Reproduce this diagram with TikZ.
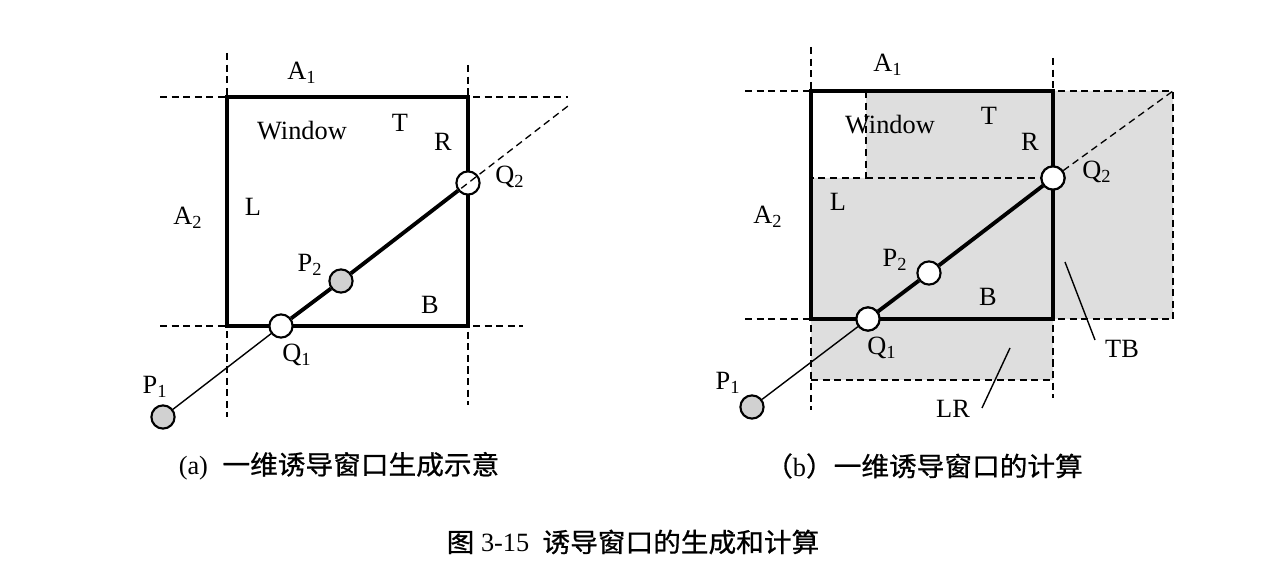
\documentclass[tikz,border=0pt]{standalone}
\usepackage{fontspec}
\setmainfont{Liberation Serif}
\newfontfamily\hei[FakeStretch=1.05,FakeBold=0.8]{Noto Sans CJK SC}
\usetikzlibrary{calc,positioning}
\definecolor{regiongray}{gray}{0.87}
\definecolor{dotgray}{gray}{0.82}
\tikzset{
    win/.style={line width=1.9pt, line join=miter},
    guide/.style={dash pattern=on 4pt off 2.6pt, line width=0.75pt},
    line/.style={line width=0.8pt},
    seg/.style={line width=2.2pt},
    pt/.style={circle, draw=black, line width=1.2pt, fill=white, minimum size=13.2pt, inner sep=0pt},
    gpt/.style={pt, fill=dotgray},
    lab/.style={font=\fontsize{15}{18}\selectfont, inner sep=0pt},
    captxt/.style={font=\fontsize{15}{18}\selectfont, inner sep=0pt},
}

\begin{document}
\begin{tikzpicture}
        [x=0.02cm, y=-0.02cm]
        \useasboundingbox (0,0) rectangle (1286,584);

        % (a) window and guides
        \coordinate (aNW) at (227,97);
        \coordinate (aNE) at (468,97);
        \coordinate (aSE) at (468,326);
        \coordinate (aSW) at (227,326);
        \coordinate (aend) at (568,106);
        \draw[guide] (160,97) -- (568,97);
        \draw[guide] (160,326) -- (523,326);
        \draw[guide] (227,53) -- (227,417);
        \draw[guide] (468,65) -- (468,405);
        \draw[win] (aNW) -- (aNE) -- (aSE) -- (aSW) -- cycle;

        % (a) points
        \node[pt] (q2a) at (468,183) {};
        \node[pt] (q1a) at (281,326) {};
        \node[gpt] (p2a) at (341,281) {};
        \node[gpt] (p1a) at (163,417) {};

        % (a) lines
        \draw[guide] (p2a) -- (aend);
        \draw[line] (p1a) -- (q1a);
        \draw[seg] (q1a) -- (p2a);
        \draw[seg] (p2a) -- (q2a);

        % (a) labels
        \node[lab] (a1a) at (302,73) {A\textsubscript{1}};
        \node[lab] (a2a) at (188,218) {A\textsubscript{2}};
        \node[lab] (wa) at (302,131) {Window};
        \node[lab] (ta) at (400,123) {T};
        \node[lab] (ra) at (443,142) {R};
        \node[lab] (la) at (253,207) {L};
        \node[lab] (ba) at (430,305) {B};
        \node[lab] (q2la) at (510,177) {Q\textsubscript{2}};
        \node[lab] (p2la) at (310,265) {P\textsubscript{2}};
        \node[lab] (q1la) at (297,355) {Q\textsubscript{1}};
        \node[lab] (p1la) at (155,387) {P\textsubscript{1}};

        % (b) shaded regions
        \fill[regiongray] (811,178) -- (866,178) -- (866,91) -- (1173,91) -- (1173,319)
            -- (1053,319) -- (1053,380) -- (811,380) -- cycle;

        % (b) window and guides
        \coordinate (bNW) at (811,91);
        \coordinate (bNE) at (1053,91);
        \coordinate (bSE) at (1053,319);
        \coordinate (bSW) at (811,319);
        \coordinate (bend) at (1173,91);
        \draw[guide] (745,91) -- (1173,91) -- (1173,319);
        \draw[guide] (745,319) -- (1173,319);
        \draw[guide] (811,47) -- (811,410);
        \draw[guide] (1053,58) -- (1053,398);
        \draw[guide] (811,380) -- (1053,380);
        \draw[guide] (866,91) -- (866,178) -- (811,178);

        % (b) points
        \node[pt] (q2b) at (1053,178) {};
        \node[pt] (q1b) at (868,319) {};
        \node[pt] (p2b) at (929,273) {};
        \node[gpt] (p1b) at (752,407) {};

        \draw[guide] (866,178) -- (q2b);
        \draw[win] (bNW) -- (bNE) -- (bSE) -- (bSW) -- cycle;
        \node[pt] at (q2b) {};
        \node[pt] at (q1b) {};

        % (b) lines
        \draw[guide] (q2b) -- (bend);
        \draw[line] (p1b) -- (q1b);
        \draw[seg] (q1b) -- (p2b);
        \draw[seg] (p2b) -- (q2b);

        % (b) labels
        \node[lab] (a1b) at (888,65) {A\textsubscript{1}};
        \node[lab] (a2b) at (768,217) {A\textsubscript{2}};
        \node[lab] (wb) at (890,125) {Window};
        \node[lab] (tb) at (989,116) {T};
        \node[lab] (rb) at (1030,142) {R};
        \node[lab] (lb) at (838,202) {L};
        \node[lab] (bb) at (988,297) {B};
        \node[lab] (q2lb) at (1097,172) {Q\textsubscript{2}};
        \node[lab] (p2lb) at (895,260) {P\textsubscript{2}};
        \node[lab] (q1lb) at (882,348) {Q\textsubscript{1}};
        \node[lab] (p1lb) at (728,383) {P\textsubscript{1}};
        \node[lab] (tblab) at (1122,349) {TB};
        \node[lab] (lrlab) at (953,409) {LR};

        % leaders
        \coordinate (tbtip) at (1065,262);
        \coordinate (tbfoot) at (1095,340);
        \coordinate (lrtip) at (1010,348);
        \coordinate (lrfoot) at (982,408);
        \draw[line] (tbtip) -- (tbfoot);
        \draw[line] (lrtip) -- (lrfoot);

        % captions
        \node[captxt] (capa) at (339,466) {(a)\hspace{0.55em}\hei 一维诱导窗口生成示意};
        \node[captxt] (capb) at (924,466) {\hei （\rmfamily b\hei ）一维诱导窗口的计算};
        \node[captxt] (capm) at (633,542) {\hei 图\rmfamily\ 3-15\ \ \hei 诱导窗口的生成和计算};

    \end{tikzpicture}
\end{document}
